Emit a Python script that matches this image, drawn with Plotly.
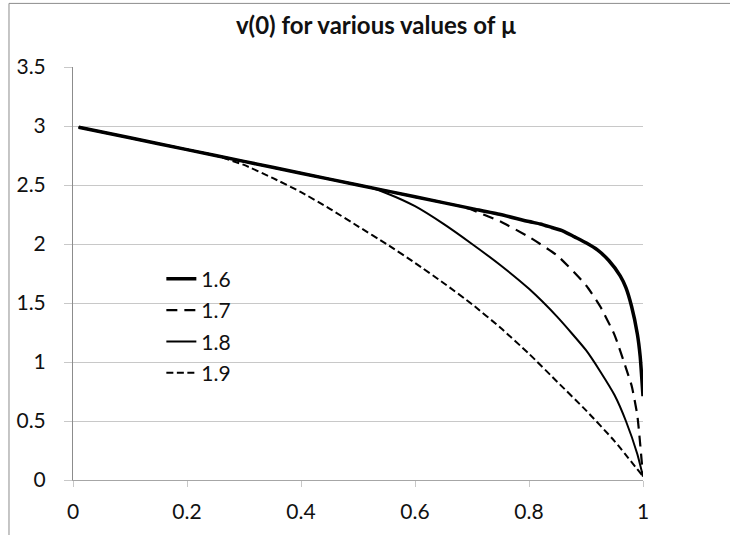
import plotly.graph_objects as go

# ---- data ----
mu_labels = ["1.6", "1.7", "1.8", "1.9"]

x_16 = [0.01, 0.1, 0.2, 0.3, 0.4, 0.5, 0.6, 0.7, 0.75, 0.8, 0.82, 0.84, 0.86, 0.88, 0.9, 0.92, 0.94, 0.96, 0.97, 0.98, 0.99, 0.995, 1.0]
y_16 = [2.99, 2.9, 2.8, 2.7, 2.6, 2.5, 2.4, 2.3, 2.25, 2.19, 2.17, 2.14, 2.11, 2.06, 2.01, 1.95, 1.86, 1.73, 1.63, 1.47, 1.24, 1.05, 0.71]

x_17 = [0.01, 0.1, 0.2, 0.3, 0.4, 0.5, 0.6, 0.65, 0.68, 0.7, 0.72, 0.75, 0.8, 0.85, 0.9, 0.925, 0.95, 0.97, 0.98, 0.99, 1.0]
y_17 = [2.99, 2.9, 2.8, 2.7, 2.6, 2.5, 2.4, 2.35, 2.32, 2.29, 2.25, 2.19, 2.06, 1.9, 1.65, 1.47, 1.23, 0.95, 0.8, 0.55, 0.03]

x_18 = [0.01, 0.1, 0.2, 0.3, 0.4, 0.5, 0.52, 0.55, 0.6, 0.65, 0.7, 0.75, 0.8, 0.85, 0.9, 0.925, 0.95, 0.97, 0.99, 1.0]
y_18 = [2.99, 2.9, 2.8, 2.7, 2.6, 2.5, 2.48, 2.43, 2.32, 2.17, 2.0, 1.82, 1.62, 1.38, 1.1, 0.92, 0.72, 0.5, 0.22, 0.03]

x_19 = [0.01, 0.1, 0.2, 0.25, 0.3, 0.35, 0.4, 0.45, 0.5, 0.55, 0.6, 0.65, 0.7, 0.75, 0.8, 0.85, 0.9, 0.95, 1.0]
y_19 = [2.99, 2.9, 2.8, 2.75, 2.67, 2.56, 2.44, 2.3, 2.15, 2.0, 1.84, 1.67, 1.49, 1.29, 1.07, 0.83, 0.59, 0.33, 0.03]

x_tickvals = [0, 0.2, 0.4, 0.6, 0.8, 1.0]
x_ticktext = ["0", "0.2", "0.4", "0.6", "0.8", "1"]
y_tickvals = [0, 0.5, 1.0, 1.5, 2.0, 2.5, 3.0, 3.5]
y_ticktext = ["0", "0.5", "1", "1.5", "2", "2.5", "3", "3.5"]

title_text = "v(0) for various values of \u00b5"

FONT = "Lato, 'Open Sans', sans-serif"

series = [
    (x_16, y_16, mu_labels[0], dict(color="black", width=3.5, dash="solid")),
    (x_17, y_17, mu_labels[1], dict(color="black", width=2.2, dash="11px,7px")),
    (x_18, y_18, mu_labels[2], dict(color="black", width=2.0, dash="solid")),
    (x_19, y_19, mu_labels[3], dict(color="black", width=2.0, dash="7px,3.5px")),
]

fig = go.Figure()
for xs, ys, name, line in series:
    fig.add_trace(go.Scatter(
        x=xs, y=ys, name=name, mode="lines",
        line=dict(shape="spline", smoothing=0.5, **line),
        legendgroup=name,
    ))

fig.update_layout(
    width=730, height=535,
    margin=dict(l=73, r=87, t=67, b=53),
    paper_bgcolor="white", plot_bgcolor="white",
    font=dict(family=FONT, size=21, color="#111111"),
    title=dict(text="<b>" + title_text + "</b>", x=0.532, xref="paper",
               xanchor="center", y=0.953, yref="container", yanchor="middle",
               font=dict(family=FONT, size=24, color="#111111")),
    showlegend=True,
    legend=dict(x=0.155, y=0.536, xanchor="left", yanchor="top",
                bgcolor="rgba(0,0,0,0)", itemwidth=30, tracegroupgap=1,
                font=dict(family=FONT, size=21, color="#111111")),
    xaxis=dict(range=[0, 1], tickvals=x_tickvals, ticktext=x_ticktext,
               showgrid=False, zeroline=False, showline=True,
               linecolor="#a6a6a6", linewidth=1,
               ticks="outside", ticklen=6, tickcolor="#c8c8c8",
               ticklabelstandoff=7),
    yaxis=dict(range=[0, 3.5], tickvals=y_tickvals, ticktext=y_ticktext,
               showgrid=True, gridcolor="#c8c8c8", gridwidth=1,
               zeroline=False, showline=True, linecolor="#8c8c8c", linewidth=1,
               ticks="outside", ticklen=8, tickcolor="#c8c8c8",
               ticklabelstandoff=14),
    shapes=[
        dict(type="rect", xref="paper", yref="paper",
             x0=-0.1123, x1=1.4, y0=-0.3, y1=1.154,
             line=dict(color="#8c8c8c", width=1), fillcolor="rgba(0,0,0,0)",
             layer="below"),
    ],
)

fig.write_html(
    "out.html",
    config={"displayModeBar": False},
    post_script="document.body.style.margin='0';document.body.style.overflow='hidden';",
)
